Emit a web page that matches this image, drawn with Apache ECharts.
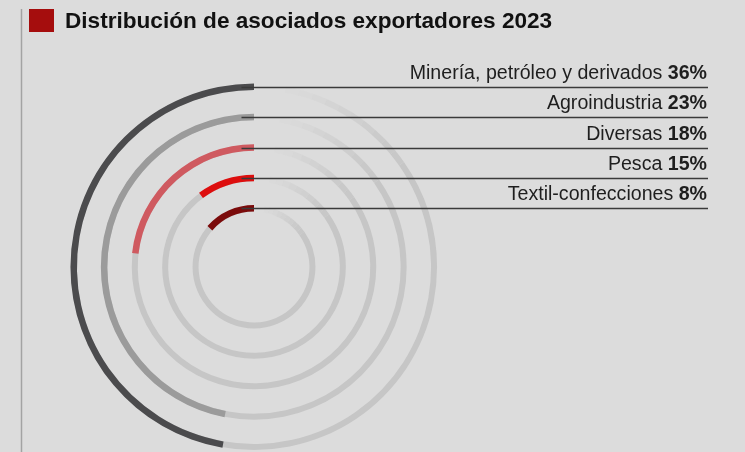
<!DOCTYPE html>
<html>
<head>
<meta charset="utf-8">
<script src="https://cdn.jsdelivr.net/npm/echarts@6/dist/echarts.min.js"></script>
<style>
html,body{margin:0;padding:0;background:#dcdcdc;}
#c{width:745px;height:452px;}
</style>
</head>
<body>
<div id="c"></div>
<script>
// Data (inner ring -> outer ring)
const categories = ['Textil-confecciones', 'Pesca', 'Diversas', 'Agroindustria', 'Minería, petróleo y derivados'];
const shares = [8, 15, 18, 23, 36];               // labelled percentages
const arcDegrees = [48.7, 36.5, 83.4, 168.9, 170.1]; // drawn arc extent (degrees)
const title = 'Distribución de asociados exportadores 2023';

const ringColors = ['#7b0b0b', '#dd0e0e', '#cf5a60', '#9b9b9b', '#4b4b4d'];
const trackColor = '#c6c6c6';
const FONT = '"Liberation Sans", Arial, Helvetica, sans-serif';

const cx = 254, cy = 267, r0 = 43.5, r1 = 195.5;
const n = categories.length;
const band = (r1 - r0) / n;

const chart = echarts.init(document.getElementById('c'), null, {renderer: 'canvas'});

const series = [];
// track rings: solid part then fading segments
const solidEnd = 305, fadeSteps = 10, fadeStep = 4.5;
series.push({
  type: 'bar', coordinateSystem: 'polar', stack: 'track', barWidth: 6, z: 1,
  itemStyle: {color: trackColor}, silent: true,
  data: categories.map(() => solidEnd)
});
for (let k = 0; k < fadeSteps; k++) {
  series.push({
    type: 'bar', coordinateSystem: 'polar', stack: 'track', barWidth: 6, z: 1,
    itemStyle: {color: trackColor, opacity: Math.max(0, 1 - (k + 0.5) / fadeSteps)}, silent: true,
    data: categories.map(() => fadeStep)
  });
}
series.push({
  type: 'bar', coordinateSystem: 'polar', stack: 'val', barWidth: 6.5, barGap: '-100%', z: 3,
  data: arcDegrees.map((v, i) => ({value: v, itemStyle: {color: ringColors[i]}}))
});

const graphics = [
  {type: 'line', shape: {x1: 21.5, y1: 9, x2: 21.5, y2: 452}, style: {stroke: '#a3a3a3', lineWidth: 1.5}, z: 10},
  {type: 'rect', shape: {x: 29, y: 9, width: 25, height: 23}, style: {fill: '#a50d0d'}, z: 10},
  {type: 'text', x: 65, y: 22, z: 10, style: {text: title, font: 'bold 22.6px ' + FONT, fill: '#111', verticalAlign: 'middle', align: 'left'}}
];
for (let i = 0; i < n; i++) {
  const r = r0 + (i + 0.5) * band;
  const ly = Math.round(cy - r) + 0.5;
  graphics.push({type: 'line', shape: {x1: 241.5, y1: ly, x2: 708, y2: ly}, style: {stroke: '#3a3a3a', lineWidth: 1.3}, z: 10});
  graphics.push({
    type: 'text', x: 707, y: ly - 14, z: 10,
    style: {
      text: '{n|' + categories[i] + ' }{b|' + shares[i] + '%}',
      align: 'right', verticalAlign: 'middle',
      rich: {
        n: {font: '19.6px ' + FONT, fill: '#1e1e1e'},
        b: {font: 'bold 19.6px ' + FONT, fill: '#1e1e1e'}
      }
    }
  });
}

chart.setOption({
  backgroundColor: '#dcdcdc',
  animation: false,
  polar: {center: [cx, cy], radius: [r0, r1]},
  angleAxis: {type: 'value', min: 0, max: 360, startAngle: 90, clockwise: false, show: false},
  radiusAxis: {type: 'category', data: categories, show: false},
  series: series,
  graphic: graphics
});
</script>
</body>
</html>
